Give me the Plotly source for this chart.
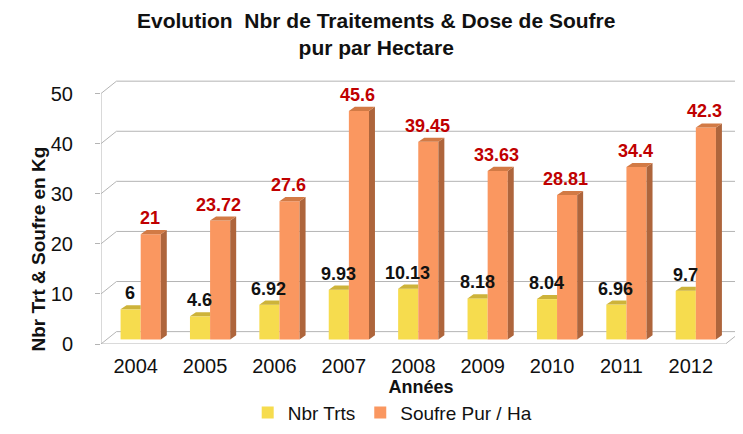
import plotly.graph_objects as go

years = ["2004", "2005", "2006", "2007", "2008", "2009", "2010", "2011", "2012"]
nbr_trts = [6, 4.6, 6.92, 9.93, 10.13, 8.18, 8.04, 6.96, 9.7]
soufre = [21, 23.72, 27.6, 45.6, 39.45, 33.63, 28.81, 34.4, 42.3]
y_ticks = [0, 10, 20, 30, 40, 50]

# 3D look parameters (axis units)
BASE = 0.92          # bars sit slightly behind the front floor edge
BAR_W = 0.29
OFF_Y = -0.218       # offset of yellow bar relative to category center
OFF_O = 0.072        # offset of orange bar
DXB, DYB = 0.086, 0.82   # bar depth
DXW, DYW = 0.223, 2.47   # wall depth
X0, X1 = -0.5, len(years) - 0.5

YEL, YEL_TOP = "#F6DC4E", "#CDB33A"
ORA, ORA_SIDE, ORA_TOP = "#FA9760", "#AE653C", "#D27A45"
GRID = "#B4B4B4"
FONT = "Liberation Sans, Arial"

L, R, T, B = 93, 10, 70, 91
W, H = 743, 434
plot_w, plot_h = W - L - R, H - T - B

xs = list(range(len(years)))
fig = go.Figure()

fig.add_trace(go.Bar(x=xs, y=nbr_trts, base=BASE, width=BAR_W, offset=OFF_Y,
                     marker=dict(color=YEL, line=dict(width=0)), name="Nbr Trts",
                     hoverinfo="skip"))
fig.add_trace(go.Bar(x=xs, y=soufre, base=BASE, width=BAR_W, offset=OFF_O,
                     marker=dict(color=ORA, line=dict(width=0)), name="Soufre Pur / Ha",
                     hoverinfo="skip"))

# yellow top faces (clipped at the orange bar)
px, py = [], []
for i, v in zip(xs, nbr_trts):
    xl, xr, t = i + OFF_Y, i + OFF_Y + BAR_W, BASE + v
    px += [xl, xl + DXB, xr, xr, xl, None]
    py += [t, t + DYB, t + DYB, t, t, None]
fig.add_trace(go.Scatter(x=px, y=py, mode="lines", fill="toself", fillcolor=YEL_TOP,
                         line=dict(width=0, color=YEL_TOP), showlegend=False, hoverinfo="skip"))

# orange side faces
px, py = [], []
for i, v in zip(xs, soufre):
    xr, t = i + OFF_O + BAR_W, BASE + v
    px += [xr, xr + DXB, xr + DXB, xr, xr, None]
    py += [BASE, BASE + DYB, t + DYB, t, BASE, None]
fig.add_trace(go.Scatter(x=px, y=py, mode="lines", fill="toself", fillcolor=ORA_SIDE,
                         line=dict(width=0, color=ORA_SIDE), showlegend=False, hoverinfo="skip"))
# orange top faces
px, py = [], []
for i, v in zip(xs, soufre):
    xl, xr, t = i + OFF_O, i + OFF_O + BAR_W, BASE + v
    px += [xl, xl + DXB, xr + DXB, xr, xl, None]
    py += [t, t + DYB, t + DYB, t, t, None]
fig.add_trace(go.Scatter(x=px, y=py, mode="lines", fill="toself", fillcolor=ORA_TOP,
                         line=dict(width=0, color=ORA_TOP), showlegend=False, hoverinfo="skip"))

shapes = []
# back-wall gridlines with diagonals from the front axis
for t in y_ticks:
    shapes.append(dict(type="line", xref="x", yref="y", x0=X0, y0=t, x1=X0 + DXW, y1=t + DYW,
                       line=dict(color=GRID, width=1), layer="below"))
    shapes.append(dict(type="line", xref="x", yref="y", x0=X0 + DXW, y0=t + DYW, x1=X1 + DXW, y1=t + DYW,
                       line=dict(color=GRID, width=1), layer="below"))
# front floor edge and right diagonal
shapes.append(dict(type="line", xref="x", yref="y", x0=X0, y0=0, x1=X1, y1=0,
                   line=dict(color=GRID, width=1), layer="below"))
shapes.append(dict(type="line", xref="x", yref="y", x0=X1, y0=0, x1=X1 + DXW, y1=DYW,
                   line=dict(color=GRID, width=1), layer="below"))
# front vertical axis
shapes.append(dict(type="line", xref="x", yref="y", x0=X0, y0=0, x1=X0, y1=y_ticks[-1],
                   line=dict(color=GRID, width=1), layer="below"))
# category boundary ticks
for k in range(len(years) + 1):
    shapes.append(dict(type="line", xref="x", yref="y", ysizemode="pixel", yanchor=0,
                       x0=X0 + k, x1=X0 + k, y0=0, y1=-6, line=dict(color=GRID, width=1)))

annotations = []
for i, v in zip(xs, nbr_trts):
    annotations.append(dict(x=i - 0.08, y=BASE + v, xref="x", yref="y", text=f"<b>{v:g}</b>",
                            showarrow=False, yanchor="middle", yshift=16,
                            font=dict(size=18, color="#111111", family=FONT)))
for i, v in zip(xs, soufre):
    annotations.append(dict(x=i + 0.2, y=BASE + v, xref="x", yref="y", text=f"<b>{v:g}</b>",
                            showarrow=False, yanchor="middle", yshift=16,
                            font=dict(size=18, color="#C00000", family=FONT)))
# y axis title
annotations.append(dict(x=(30 - L) / plot_w, y=(H - B - 246) / plot_h, xref="paper", yref="paper",
                        xanchor="center", yanchor="middle",
                        text="<b>Nbr Trt & Soufre en Kg</b>",
                        showarrow=False, textangle=-90, font=dict(size=19, color="#111111", family=FONT)))
# chart title
annotations.append(dict(x=(368 - L) / plot_w, y=(H - B - 25) / plot_h, xref="paper", yref="paper",
                        xanchor="center", yanchor="middle",
                        text="<b>Evolution  Nbr de Traitements & Dose de Soufre<br>pur par Hectare</b>",
                        showarrow=False, font=dict(size=21, color="#111111", family=FONT)))

fig.update_layout(
    width=W, height=H,
    margin=dict(l=L, r=R, t=T, b=B),
    paper_bgcolor="white", plot_bgcolor="white",
    font=dict(family=FONT, color="#111111"),
    barmode="overlay",
    xaxis=dict(range=[X0, X1 + DXW], tickvals=xs, ticktext=years, ticks="",
               showgrid=False, zeroline=False, showline=False,
               tickfont=dict(size=20), ticklabelstandoff=8,
               title=dict(text="<b>Années</b>", font=dict(size=18), standoff=0)),
    yaxis=dict(range=[0, 53.1], tickvals=y_ticks, ticks="outside", ticklen=5, tickcolor=GRID,
               showgrid=False, zeroline=False, showline=False,
               tickfont=dict(size=20), ticklabelstandoff=18),
    legend=dict(orientation="h", x=0.455, xanchor="center", y=-0.258, yanchor="middle",
                font=dict(size=19), traceorder="normal"),
    shapes=shapes, annotations=annotations,
    hovermode=False,
)

fig.write_html("out.html")
